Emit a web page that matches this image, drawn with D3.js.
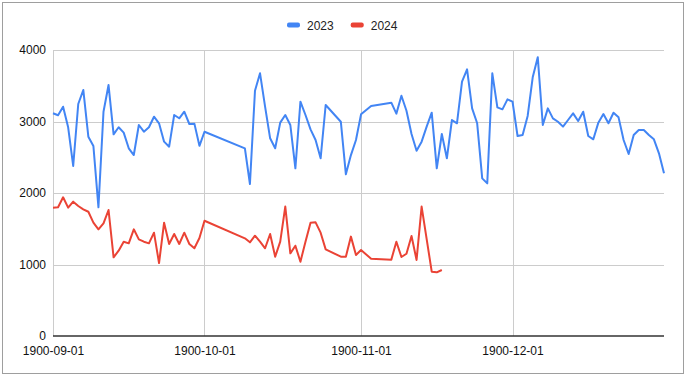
<!DOCTYPE html>
<html>
<head>
<meta charset="utf-8">
<script src="https://cdn.jsdelivr.net/npm/d3@7"></script>
<style>
  body { margin: 0; background: #fff; }
  text { font-family: "Liberation Sans", Arial, sans-serif; }
</style>
</head>
<body>
<div id="chart"></div>
<script>
// dates (1900), missing days are simply absent
var dates = [
  "1900-09-01","1900-09-02","1900-09-03","1900-09-04","1900-09-05","1900-09-06","1900-09-07","1900-09-08","1900-09-09","1900-09-10",
  "1900-09-11","1900-09-12","1900-09-13","1900-09-14","1900-09-15","1900-09-16","1900-09-17","1900-09-18","1900-09-19","1900-09-20",
  "1900-09-21","1900-09-22","1900-09-23","1900-09-24","1900-09-25","1900-09-26","1900-09-27","1900-09-28","1900-09-29","1900-09-30",
  "1900-10-01",
  "1900-10-09","1900-10-10","1900-10-11","1900-10-12","1900-10-13","1900-10-14","1900-10-15","1900-10-16","1900-10-17","1900-10-18",
  "1900-10-19","1900-10-20","1900-10-21","1900-10-22","1900-10-23","1900-10-24","1900-10-25",
  "1900-10-28","1900-10-29","1900-10-30","1900-10-31",
  "1900-11-01","1900-11-03",
  "1900-11-07","1900-11-08","1900-11-09","1900-11-10","1900-11-11","1900-11-12","1900-11-13","1900-11-14","1900-11-15","1900-11-16",
  "1900-11-17","1900-11-18","1900-11-19","1900-11-20","1900-11-21","1900-11-22","1900-11-23","1900-11-24","1900-11-25","1900-11-26",
  "1900-11-27","1900-11-28","1900-11-29","1900-11-30",
  "1900-12-01","1900-12-02","1900-12-03","1900-12-04","1900-12-05","1900-12-06","1900-12-07","1900-12-08","1900-12-09","1900-12-10",
  "1900-12-11","1900-12-12","1900-12-13","1900-12-14","1900-12-15","1900-12-16","1900-12-17","1900-12-18","1900-12-19","1900-12-20",
  "1900-12-21","1900-12-22","1900-12-23","1900-12-24","1900-12-25","1900-12-26","1900-12-27","1900-12-28","1900-12-29","1900-12-30",
  "1900-12-31"
];

var values2023 = [
  3115,3087,3207,2919,2378,3245,3441,2787,2657,1800,
  3137,3510,2820,2919,2844,2625,2531,2951,2857,2919,
  3067,2975,2718,2648,3091,3045,3137,2965,2970,2660,
  2857,
  2625,2126,3431,3674,3207,2765,2625,2984,3091,2951,
  2345,3277,3091,2890,2741,2485,3231,
  2997,2261,2530,2741,
  3100,3217,
  3263,3110,3360,3151,2825,2592,2718,2928,3123,2345,
  2825,2485,3021,2975,3557,3730,3184,2975,2205,2135,
  3674,3198,3170,3310,
  3277,2797,2811,3077,3618,3900,2951,3184,3044,2997,
  2928,3021,3114,3007,3137,2797,2751,2984,3105,2975,
  3123,3058,2741,2545,2811,2881,2881,2811,2751,2555,
  2275
];

var values2024 = [
  1795,1800,1940,1795,1879,1818,1772,1738,1585,1492,
  1576,1762,1100,1193,1319,1296,1492,1352,1319,1296,
  1445,1020,1585,1287,1427,1287,1445,1287,1227,1370,
  1612,
  1366,1310,1403,1319,1227,1427,1109,1319,1810,1156,
  1263,1039,1319,1585,1590,1445,1212,
  1109,1109,1390,1133,
  1203,1080,
  1068,1319,1105,1150,1399,1063,1810,1355,900,890,
  923
];

var seriesNames = ["2023", "2024"];
var seriesColors = ["#4285f4", "#ea4335"];
var yTicks = [0, 1000, 2000, 3000, 4000];
var xTickLabels = ["1900-09-01", "1900-10-01", "1900-11-01", "1900-12-01"];

var W = 685, H = 375;
var plot = {left: 53, right: 664, top: 50, bottom: 336};

var parseDate = d3.utcParse("%Y-%m-%d");
var fmt = d3.utcFormat("%Y-%m-%d");

var series = [values2023, values2024].map(function(vals, k) {
  return {
    name: seriesNames[k],
    color: seriesColors[k],
    points: vals.map(function(v, i) { return {date: parseDate(dates[i]), value: v}; })
  };
});

var svg = d3.select("#chart").append("svg")
    .attr("width", W)
    .attr("height", H);

svg.append("rect")
   .attr("x", 2.5).attr("y", 2.5)
   .attr("width", 681).attr("height", 371)
   .attr("fill", "#fff")
   .attr("stroke", "#9e9e9e");

/***Scales***/
var xScale = d3.scaleUtc()
    .domain([parseDate("1900-09-01"), parseDate("1900-12-31")])
    .range([plot.left, plot.right]);
var yScale = d3.scaleLinear()
    .domain([0, 4000])
    .range([plot.bottom, plot.top]);

/***Grid***/
svg.append("g").selectAll("line")
   .data(yTicks.slice(1))
   .enter().append("line")
   .attr("x1", plot.left).attr("x2", plot.right)
   .attr("y1", function(d) { return Math.round(yScale(d)) + 0.5; })
   .attr("y2", function(d) { return Math.round(yScale(d)) + 0.5; })
   .attr("stroke", "#cccccc");

svg.append("g").selectAll("line")
   .data(xTickLabels)
   .enter().append("line")
   .attr("x1", function(d) { return Math.round(xScale(parseDate(d))) + 0.5; })
   .attr("x2", function(d) { return Math.round(xScale(parseDate(d))) + 0.5; })
   .attr("y1", plot.top).attr("y2", plot.bottom)
   .attr("stroke", "#cccccc");

/***Axes***/
var yAxis = d3.axisLeft(yScale)
    .tickValues(yTicks)
    .tickFormat(d3.format("d"))
    .tickSize(0)
    .tickPadding(7);
var yG = svg.append("g")
   .attr("transform", "translate(" + plot.left + ",0)")
   .call(yAxis);
yG.select(".domain").remove();
yG.selectAll("text")
  .attr("font-size", 12)
  .attr("font-family", "'Liberation Sans', Arial, sans-serif")
  .attr("fill", "#111");

var xAxis = d3.axisBottom(xScale)
    .tickValues(xTickLabels.map(parseDate))
    .tickFormat(fmt)
    .tickSize(0)
    .tickPadding(10);
var xG = svg.append("g")
   .attr("transform", "translate(0," + plot.bottom + ")")
   .call(xAxis);
xG.select(".domain").remove();
xG.selectAll("text")
  .attr("font-size", 12)
  .attr("font-family", "'Liberation Sans', Arial, sans-serif")
  .attr("fill", "#111");

/***Lines***/
var line = d3.line()
    .x(function(d) { return xScale(d.date); })
    .y(function(d) { return yScale(d.value); });

svg.append("g").selectAll("path")
   .data(series)
   .enter().append("path")
   .attr("d", function(s) { return line(s.points); })
   .attr("fill", "none")
   .attr("stroke", function(s) { return s.color; })
   .attr("stroke-width", 2)
   .attr("stroke-linejoin", "round");

/***Baseline***/
svg.append("line")
   .attr("x1", plot.left).attr("x2", plot.right)
   .attr("y1", yScale(0)).attr("y2", yScale(0))
   .attr("stroke", "#333")
   .attr("stroke-width", 1.3);

/***Legend***/
var legend = svg.append("g").attr("transform", "translate(287,25)");
var lx = 0;
series.forEach(function(s) {
  legend.append("rect")
    .attr("x", lx).attr("y", -2.5)
    .attr("width", 13).attr("height", 5)
    .attr("rx", 2)
    .attr("fill", s.color);
  var t = legend.append("text")
    .attr("x", lx + 20).attr("y", 4.5)
    .attr("font-size", 12)
    .attr("fill", "#222")
    .text(s.name);
  lx += 20 + t.node().getComputedTextLength() + 17;
});
</script>
</body>
</html>
